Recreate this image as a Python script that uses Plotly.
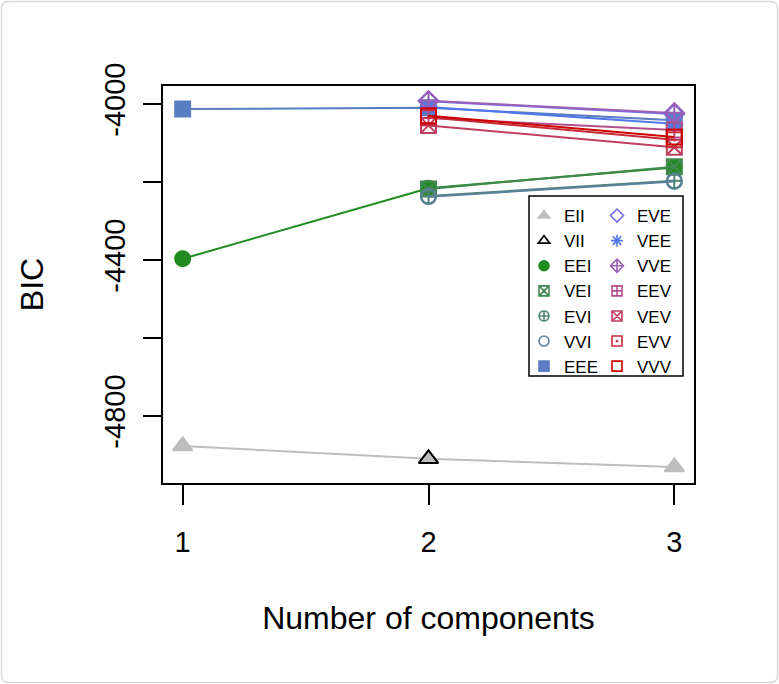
import plotly.graph_objects as go

components = [1, 2, 3]
models = ["EII", "VII", "EEI", "VEI", "EVI", "VVI", "EEE",
          "EVE", "VEE", "VVE", "EEV", "VEV", "EVV", "VVV"]
bic = {
    "EII": [-4877, -4910, -4931],
    "VII": [None, -4910, None],
    "EEI": [-4397, -4216, -4163],
    "VEI": [None, -4218, -4161],
    "EVI": [None, -4236, -4197],
    "VVI": [None, -4238, -4199],
    "EEE": [-4013, -4010, -4042],
    "EVE": [None, -3993, -4026],
    "VEE": [None, -4008, -4051],
    "VVE": [None, -3992, -4023],
    "EEV": [None, -4036, -4067],
    "VEV": [None, -4055, -4111],
    "EVV": [None, -4034, -4092],
    "VVV": [None, -4030, -4085],
}
colors = {
    "EII": "#BEBEBE", "VII": "#000000", "EEI": "#218B21", "VEI": "#41884F",
    "EVI": "#508476", "VVI": "#58819C", "EEE": "#597DC3", "VEE": "#5178EA",
    "EVE": "#716EE7", "VVE": "#9B60B8", "EEV": "#B2508B", "VEV": "#C03F60",
    "EVV": "#C82A36", "VVV": "#CC0000",
}
symbols = {
    "EII": "triangle-up", "VII": "triangle-up-open", "EEI": "circle",
    "VEI": "square-x-open", "EVI": "circle-cross-open", "VVI": "circle-open",
    "EEE": "square", "EVE": "diamond-open", "VEE": "asterisk-open",
    "VVE": "diamond-cross-open", "EEV": "square-cross-open",
    "VEV": "square-x-open", "EVV": "square-open-dot", "VVV": "square-open",
}
y_tickvals = [-4800, -4600, -4400, -4200, -4000]
y_ticktext = ["-4800", "", "-4400", "", "-4000"]
x_tickvals = [1, 2, 3]

FONT = "Liberation Sans, Arial, sans-serif"
fig = go.Figure()

draw_order = ["EII", "VII", "EEI", "VEI", "EVI", "VVI", "EEE",
              "VEE", "EVE", "VVE", "EEV", "VEV", "EVV", "VVV"]
marker_size = {"EII": 17, "VII": 17}
for m in draw_order:
    fig.add_trace(go.Scatter(
        x=components, y=bic[m], mode="lines+markers", name=m,
        showlegend=False, connectgaps=False,
        line=dict(color=colors[m], width=2),
        marker=dict(symbol=symbols[m], size=marker_size.get(m, 15), color=colors[m],
                    line=dict(color=("#000000" if m == "VII" else colors[m]), width=2)),
    ))

# legend-only entries
for i, m in enumerate(models):
    fig.add_trace(go.Scatter(
        x=[None], y=[None], mode="markers", name=m,
        legend="legend" if i < 7 else "legend2", legendgroup=m,
        marker=dict(symbol=symbols[m], size=10, color=colors[m],
                    line=dict(color=colors[m], width=1.6)),
    ))

x0p, x1p = 163, 694
y0p, y1p = 86, 483
W, H = 779, 684
def px2x(px):
    return (px - x0p) / (x1p - x0p)
def px2y(py):
    return (y1p - py) / (y1p - y0p)

# outer rounded frame
r = 7
fx0, fx1, fy0, fy1 = 1.5, W - 1.5, 1.5, H - 1.5
def P(a, b):
    return f"{px2x(a)},{px2y(b)}"
frame = (f"M {P(fx0 + r, fy0)} L {P(fx1 - r, fy0)} Q {P(fx1, fy0)} {P(fx1, fy0 + r)} "
         f"L {P(fx1, fy1 - r)} Q {P(fx1, fy1)} {P(fx1 - r, fy1)} "
         f"L {P(fx0 + r, fy1)} Q {P(fx0, fy1)} {P(fx0, fy1 - r)} "
         f"L {P(fx0, fy0 + r)} Q {P(fx0, fy0)} {P(fx0 + r, fy0)} Z")

legend_common = dict(
    font=dict(family=FONT, size=17, color="black"),
    bgcolor="rgba(0,0,0,0)", borderwidth=0,
    xanchor="left", yanchor="top", traceorder="grouped",
    tracegroupgap=0, itemwidth=30,
)

fig.update_layout(
    width=W, height=H,
    margin=dict(l=x0p, r=W - x1p, t=y0p, b=H - y1p, autoexpand=False),
    paper_bgcolor="white", plot_bgcolor="white",
    font=dict(family=FONT, color="black"),
    xaxis=dict(range=[0.92, 3.08], tickvals=x_tickvals, ticktext=[str(v) for v in x_tickvals],
               showgrid=False, zeroline=False, showline=True, mirror=True,
               linecolor="black", linewidth=2, ticks="outside", ticklen=20, tickwidth=2,
               tickcolor="black", tickfont=dict(size=29, family=FONT), ticklabelstandoff=12,
               title=dict(text="Number of components", font=dict(size=32, family=FONT), standoff=50)),
    yaxis=dict(range=[-4972, -3954], tickvals=y_tickvals, ticktext=y_ticktext,
               showgrid=False, zeroline=False, showline=True, mirror=True,
               linecolor="black", linewidth=2, ticks="outside", ticklen=18, tickwidth=2,
               tickcolor="black", tickfont=dict(size=29, family=FONT), tickangle=-90,
               ticklabelstandoff=6,
               title=dict(text="BIC", font=dict(size=32, family=FONT), standoff=46)),
    legend=dict(x=px2x(524), y=px2y(198), **legend_common),
    legend2=dict(x=px2x(597), y=px2y(198), **legend_common),
    shapes=[
        dict(type="rect", xref="paper", yref="paper", x0=px2x(529), x1=px2x(683),
             y0=px2y(376), y1=px2y(196), line=dict(color="black", width=1.5),
             fillcolor="white", layer="above"),
        dict(type="path", xref="paper", yref="paper", path=frame,
             line=dict(color="#D9D9D9", width=1.5), layer="below"),
    ],
)

fig.write_html("out.html")
